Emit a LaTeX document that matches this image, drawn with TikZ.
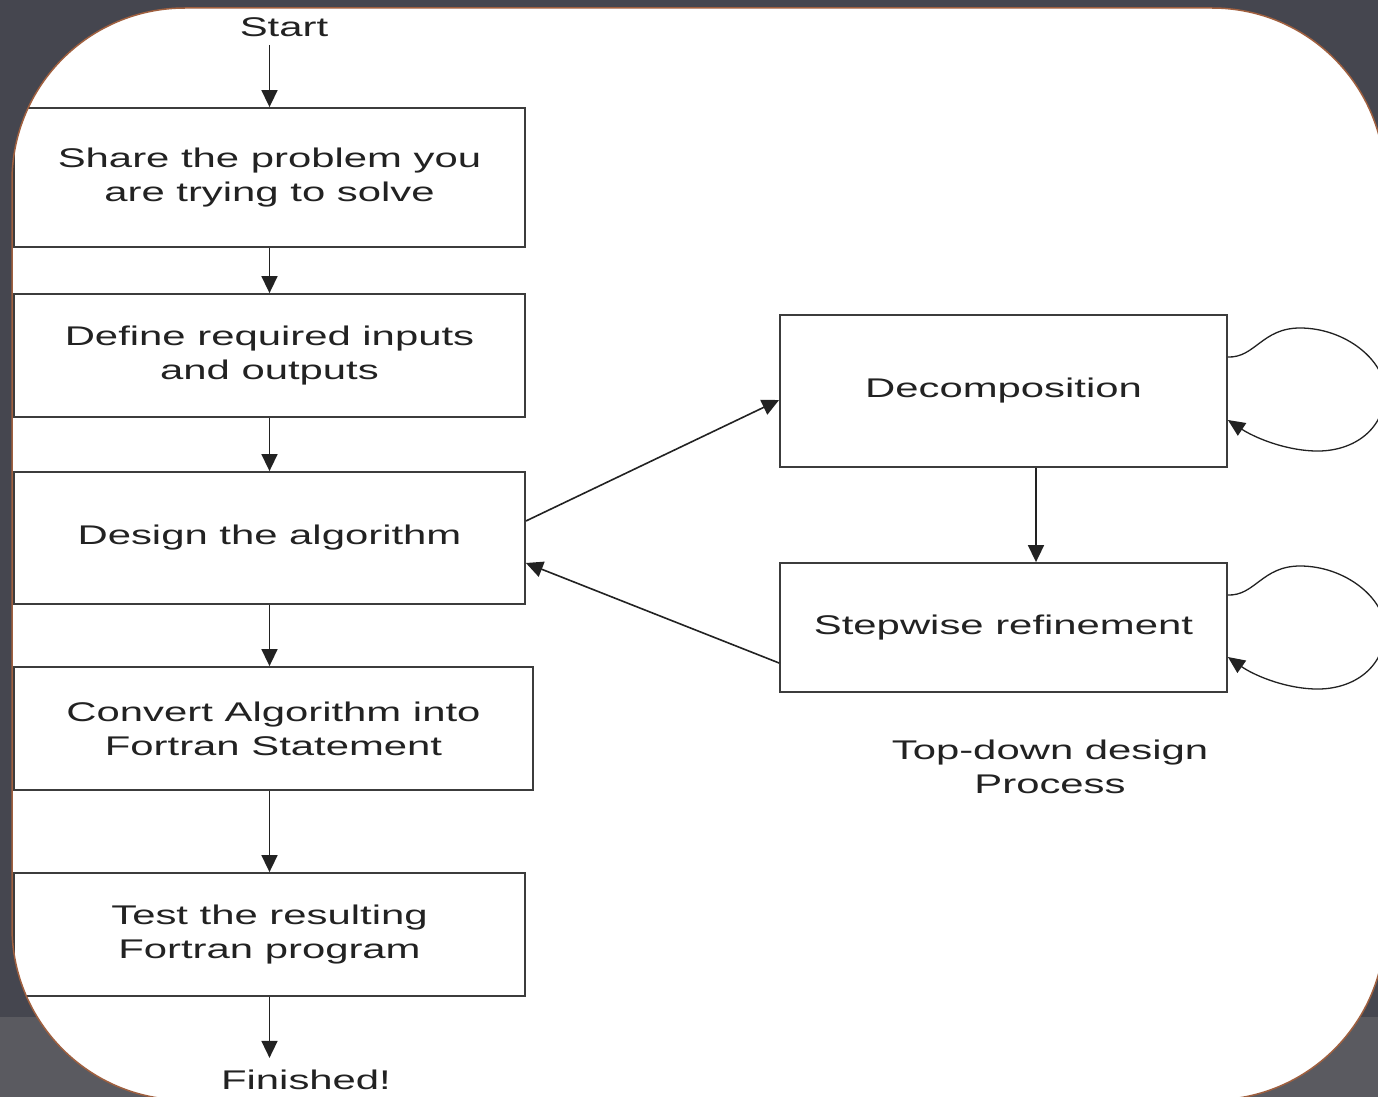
\documentclass[tikz,border=0pt]{standalone}
\usepackage{fontspec}
\setmainfont[FakeStretch=1.55]{Liberation Sans}
\usetikzlibrary{arrows.meta}
\definecolor{bgdark}{HTML}{45464F}
\definecolor{bglight}{HTML}{5A5A60}
\definecolor{rim}{HTML}{A0603F}
\definecolor{ink}{HTML}{222222}
\definecolor{edge}{HTML}{3C3C3C}
\begin{document}
\begin{tikzpicture}[x=1pt,y=-1pt,
  box/.style={draw=edge, line width=1.8pt, inner sep=0pt, align=center, text=ink,
    font=\fontsize{27}{33}\selectfont},
  lbl/.style={inner sep=0pt, align=center, text=ink, font=\fontsize{27}{33}\selectfont},
  arr/.style={draw=ink, line width=1.6pt, -{Triangle[length=17pt,width=16pt]}},
  loop/.style={draw=ink, line width=1.3pt, -{Triangle[length=17pt,width=15pt]}}]
\useasboundingbox (0,0) rectangle (1378,1097);
\clip (0,0) rectangle (1378,1097);
\fill[bgdark] (0,0) rectangle (1378,1097);
\fill[bglight] (0,1017) rectangle (1378,1097);
\fill[white, rounded corners=173pt] (12,8) rectangle (1385,1100);

\begin{scope}
\clip[rounded corners=173pt] (12,8) rectangle (1385,1100);
\node[lbl] (start) at (284,27) {Start};
\node[box, minimum width=511pt, minimum height=139pt] (b1) at (269.5,177.5) {Share the problem you\\[1pt]are trying to solve};
\node[box, minimum width=511pt, minimum height=123pt] (b2) at (269.5,355.5) {Define required inputs\\[1pt]and outputs};
\node[box, minimum width=511pt, minimum height=132pt] (b3) at (269.5,538) {Design the algorithm};
\node[box, minimum width=519pt, minimum height=123pt] (b4) at (273.5,728.5) {Convert Algorithm into\\[1pt]Fortran Statement};
\node[box, minimum width=511pt, minimum height=123pt] (b5) at (269.5,934.5) {Test the resulting\\[1pt]Fortran program};
\node[lbl] (fin) at (306,1080) {Finished!};

\node[box, minimum width=447pt, minimum height=152pt] (dec) at (1003.5,391) {Decomposition};
\node[box, minimum width=447pt, minimum height=129pt] (step) at (1003.5,627.5) {Stepwise refinement};
\node[lbl] (cap) at (1050,767) {Top-down design\\[1pt]Process};

\draw[arr] ([yshift=-8pt]b1.north |- start.south) -- (b1.north);
\draw[arr] (b1.south) -- (b2.north);
\draw[arr] (b2.south) -- (b3.north);
\draw[arr] (b3.south) -- (b3.south |- b4.north);
\draw[arr] (b3.south |- b4.south) -- (b3.south |- b5.north);
\draw[arr] (b5.south) -- ([yshift=12pt]b5.south |- fin.north);

\draw[arr] ([yshift=17pt]b3.east) -- ([yshift=-9pt]dec.west);
\draw[arr] ([yshift=-35.5pt]step.west) -- ([yshift=-25pt]b3.east);
\draw[arr] ([xshift=32.5pt]dec.south) -- ([xshift=32.5pt]step.north);

\draw[loop] ([yshift=34pt]dec.east) .. controls (1255,358) and (1262,328) .. (1300,328)
  .. controls (1345,328) and (1385,360) .. (1385,392)
  .. controls (1385,428) and (1355,452) .. (1315,451)
  .. controls (1282,450) and (1252,436) .. ([yshift=-29pt]dec.east);
\draw[loop] ([yshift=32.5pt]step.east) .. controls (1255,596) and (1262,566) .. (1300,566)
  .. controls (1345,566) and (1385,598) .. (1385,630)
  .. controls (1385,666) and (1355,690) .. (1315,689)
  .. controls (1282,688) and (1252,674) .. ([yshift=-29.5pt]step.east);
\end{scope}
\draw[rim, line width=1.5pt, rounded corners=173pt] (12,8) rectangle (1385,1100);
\end{tikzpicture}
\end{document}
